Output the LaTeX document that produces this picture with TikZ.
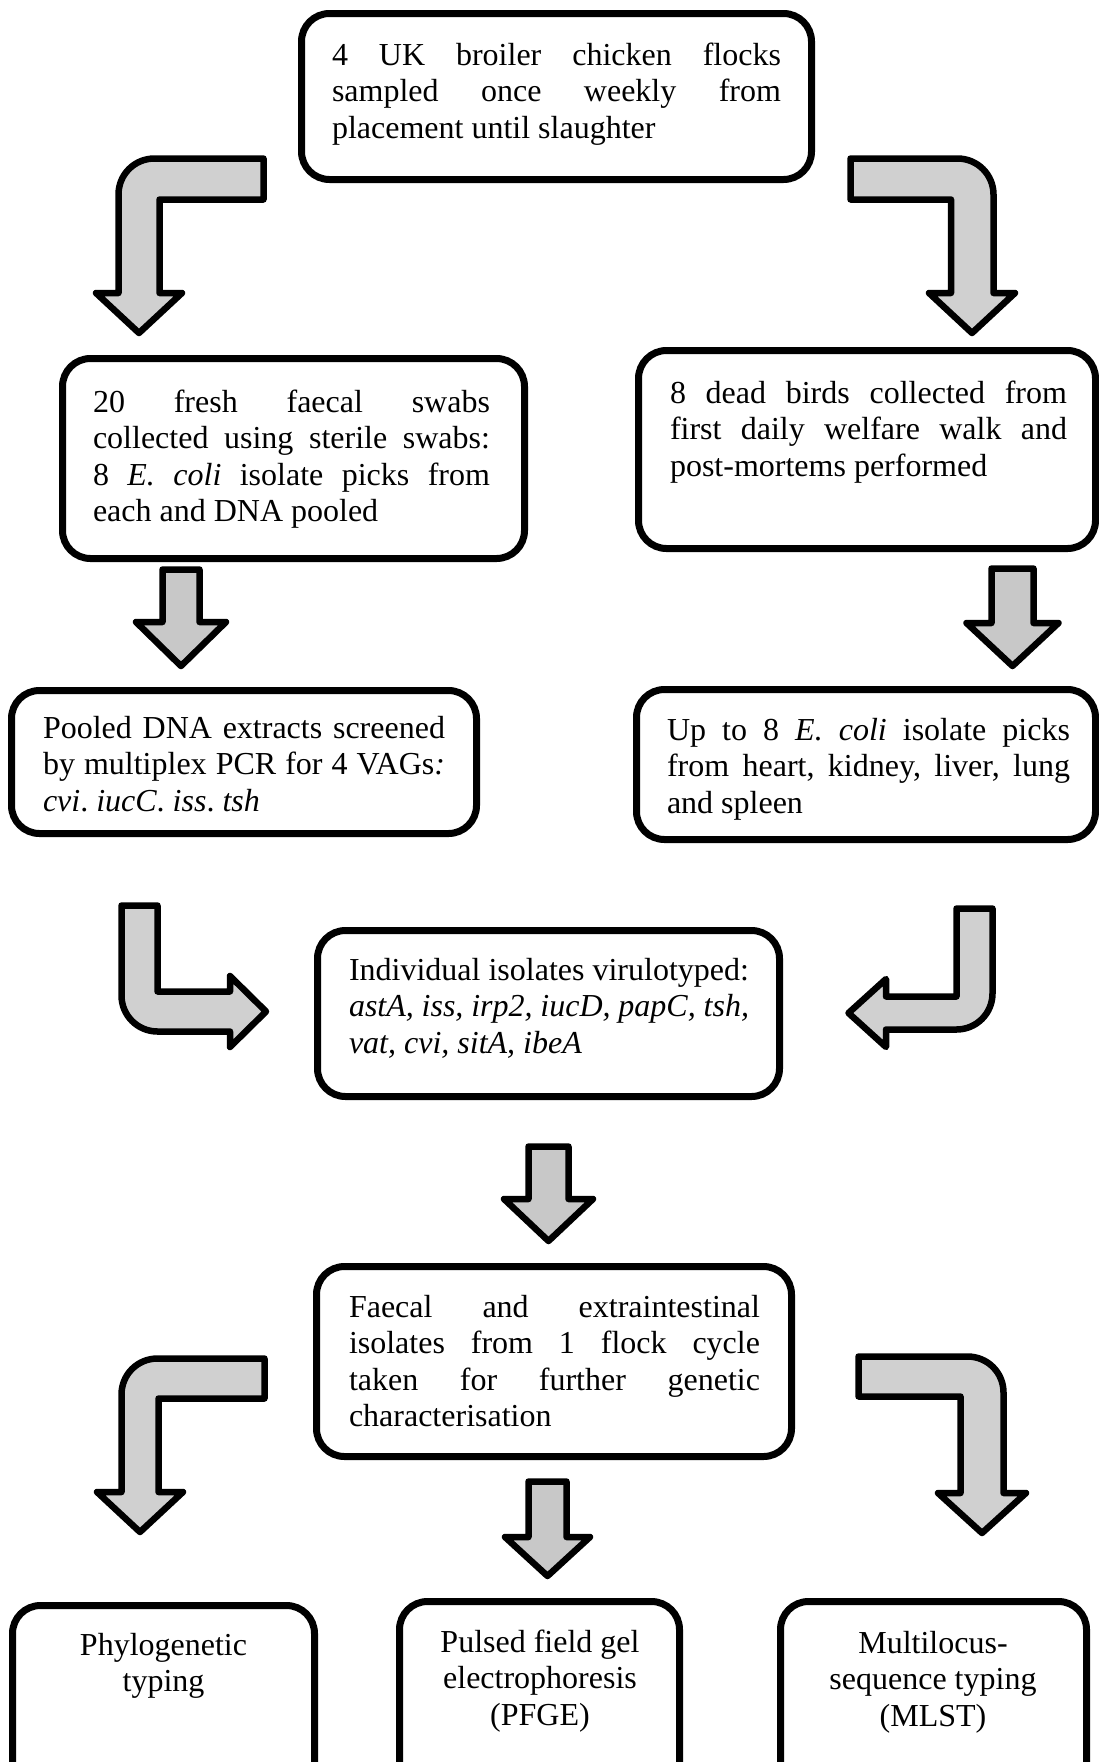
\documentclass[tikz,border=0pt]{standalone}
\usepackage{fontspec}
\setmainfont{Liberation Serif}
\definecolor{arrowgray}{RGB}{208,208,208}
\definecolor{arrowgrayb}{RGB}{200,200,200}
\newcommand\bodyfont{\fontsize{32pt}{36.6pt}\selectfont\frenchspacing}
\newcommand\jline[1]{\makebox[\linewidth][s]{#1}\\}
\begin{document}
\begin{tikzpicture}[x=1pt,y=-1pt,
  box/.style={draw=black, line width=7pt, rounded corners=28pt, fill=white, inner sep=0pt, outer sep=0pt},
  blockarrow/.style={draw=black, line width=6.5pt, line join=round, fill=arrowgray},
  blockarrowb/.style={draw=black, line width=6.5pt, line join=round, fill=arrowgrayb},
  txt/.style={inner sep=0pt, outer sep=0pt, font=\bodyfont}]
\useasboundingbox (0,0) rectangle (1099,1762);
\clip (0,0) rectangle (1099,1762);
\fill[white] (0,0) rectangle (1099,1762);

% boxes
\node[box, minimum width=510pt, minimum height=166pt] (b1) at (556.5,96.5) {};
\node[box, minimum width=462pt, minimum height=200pt] (b2l) at (293.5,458.5) {};
\node[box, minimum width=457pt, minimum height=198pt] (b2r) at (867,449.5) {};
\node[box, minimum width=465pt, minimum height=143pt] (b3l) at (244,762) {};
\node[box, minimum width=459pt, minimum height=150pt] (b3r) at (866,764.5) {};
\node[box, minimum width=462pt, minimum height=166pt] (bc) at (548.5,1013.5) {};
\node[box, minimum width=475pt, minimum height=190pt] (bf) at (554,1361.5) {};
\node[box, minimum width=302pt, minimum height=201pt] (bl) at (163.5,1706) {};
\node[box, minimum width=280pt, minimum height=205pt] (bm) at (539.5,1704) {};
\node[box, minimum width=306pt, minimum height=205pt] (br) at (933.5,1704) {};

% texts
\node[txt, anchor=base west] (t1) at (332,65) {\parbox[t]{449pt}{%
\jline{4 UK broiler chicken flocks}
\jline{sampled once weekly from}
placement until slaughter}};
\node[txt, anchor=base west] (t2l) at (93,412) {\parbox[t]{397pt}{%
\jline{20 fresh faecal swabs}
\jline{collected using sterile swabs:}
\jline{8 \textit{E. coli} isolate picks from}
each and DNA pooled}};
\node[txt, anchor=base west] (t2r) at (670,403) {\parbox[t]{397pt}{%
\jline{8 dead birds collected from}
\jline{first daily welfare walk and}
post-mortems performed}};
\node[txt, anchor=base west] (t3l) at (43,738) {\parbox[t]{402pt}{%
\jline{Pooled DNA extracts screened}
\jline{by multiplex PCR for 4 VAGs\textit{:}}
\textit{cvi}. \textit{iucC}. \textit{iss}. \textit{tsh}}};
\node[txt, anchor=base west] (t3r) at (667,740) {\parbox[t]{403pt}{%
\jline{Up to 8 \textit{E. coli} isolate picks}
\jline{from heart, kidney, liver, lung}
and spleen}};
\node[txt, anchor=base west] (tc) at (349,980) {\parbox[t]{400pt}{%
\jline{Individual isolates virulotyped:}
\jline{\itshape astA, iss, irp2, iucD, papC, tsh,}
\textit{vat, cvi, sitA, ibeA}}};
\node[txt, anchor=base west] (tf) at (349,1317) {\parbox[t]{411pt}{%
\jline{Faecal and extraintestinal}
\jline{isolates from 1 flock cycle}
\jline{taken for further genetic}
characterisation}};
\node[txt, anchor=base] (tl) at (163.5,1655) {\parbox[t]{300pt}{\centering Phylogenetic\\typing}};
\node[txt, anchor=base] (tm) at (540,1652) {\parbox[t]{280pt}{\centering Pulsed field gel\\electrophoresis\\(PFGE)}};
\node[txt, anchor=base] (tr) at (933,1653) {\parbox[t]{300pt}{\centering Multilocus-\\sequence typing\\(MLST)}};

% block arrows
\draw[blockarrow] (263.5,158.5) -- (154.5,158.5) .. controls (134.6,158.5) and (118.5,174.4) .. (118.5,194.5) -- (118.5,293) -- (96,293) -- (139,333) -- (182,293) -- (159.5,293) -- (159.5,199.5) -- (263.5,199.5) -- cycle;
\draw[blockarrow] (850.5,158.5) -- (957.5,158.5) .. controls (977.4,158.5) and (993.5,174.6) .. (993.5,194.5) -- (993.5,293) -- (1015,293) -- (972,333) -- (929,293) -- (951,293) -- (951,199.5) -- (850.5,199.5) -- cycle;
\draw[blockarrowb] (162.5,569.5) -- (199.5,569.5) -- (199.5,622) -- (226,622) -- (181,666) -- (136,622) -- (162.5,622) -- cycle;
\draw[blockarrowb] (991.5,568.5) -- (1033.5,568.5) -- (1033.5,623) -- (1058.5,623) -- (1012.5,666) -- (966.5,623) -- (991.5,623) -- cycle;
\draw[blockarrow] (121.5,905.5) -- (157.5,905.5) -- (157.5,991.5) -- (230,991.5) -- (230,976) -- (266,1011.5) -- (230,1047) -- (230,1031.5) -- (157.5,1031.5) .. controls (137.6,1031.5) and (121.5,1015.4) .. (121.5,995.5) -- cycle;
\draw[blockarrow] (956.5,908.5) -- (992.5,908.5) -- (992.5,993.5) .. controls (992.5,1013.4) and (976.4,1029.5) .. (956.5,1029.5) -- (886,1029.5) -- (886,1047) -- (848.5,1013) -- (886,979) -- (886,996.5) -- (956.5,996.5) -- cycle;
\draw[blockarrowb] (528.5,1146.5) -- (568.5,1146.5) -- (568.5,1199) -- (593,1199) -- (548.5,1241) -- (504,1199) -- (528.5,1199) -- cycle;
\draw[blockarrowb] (528.5,1481.5) -- (566.5,1481.5) -- (566.5,1537) -- (590,1537) -- (547.5,1576) -- (505,1537) -- (528.5,1537) -- cycle;
\draw[blockarrow] (264.5,1358.5) -- (157.5,1358.5) .. controls (137.6,1358.5) and (121.5,1374.4) .. (121.5,1394.5) -- (121.5,1492) -- (97,1492) -- (140,1532) -- (183,1492) -- (158.5,1492) -- (158.5,1398.5) -- (264.5,1398.5) -- cycle;
\draw[blockarrow] (858.5,1356.5) -- (967.5,1356.5) .. controls (987.4,1356.5) and (1003.5,1372.4) .. (1003.5,1392.5) -- (1003.5,1493) -- (1026,1493) -- (982,1533) -- (938,1493) -- (960.5,1493) -- (960.5,1396.5) -- (858.5,1396.5) -- cycle;
\end{tikzpicture}
\end{document}
